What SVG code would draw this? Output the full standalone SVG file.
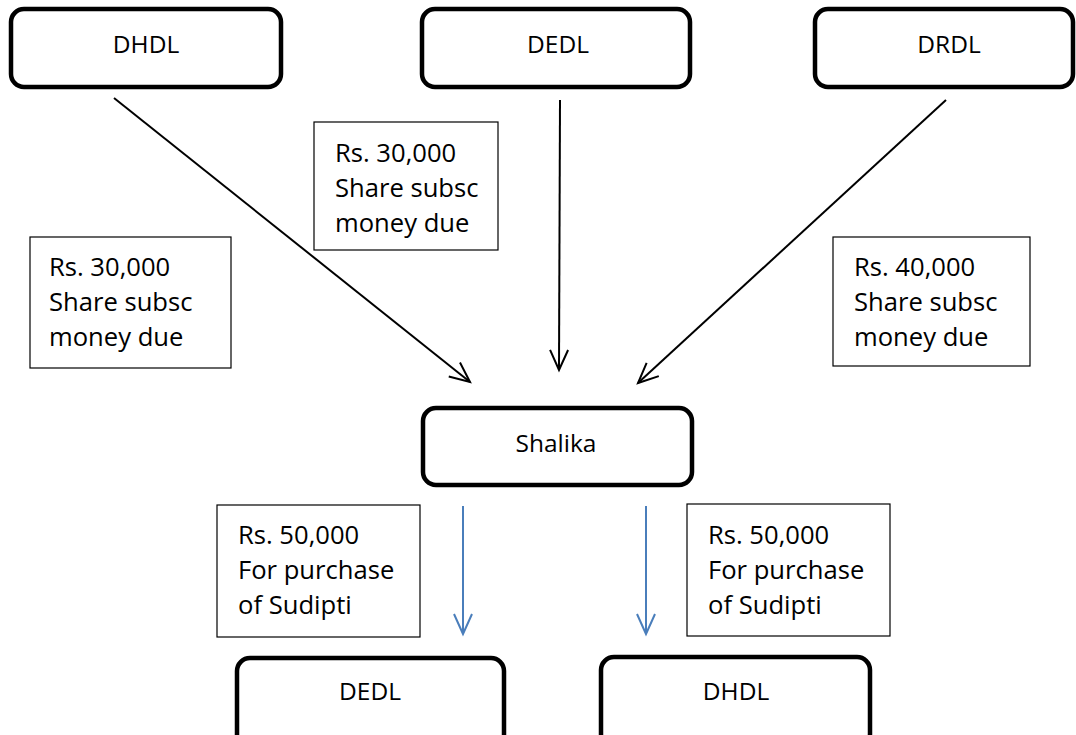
<svg xmlns="http://www.w3.org/2000/svg" width="1076" height="735" viewBox="0 0 1076 735">
<defs>
<style>
.node{fill:#fff;stroke:#000;stroke-width:4.5}
.nt{font-family:"Open Sans","Noto Sans",sans-serif;font-size:24.5px;fill:#000;text-anchor:middle}
.lb{fill:#fff;stroke:#000;stroke-width:1.2}
.lt{font-family:"Open Sans","Noto Sans",sans-serif;font-size:25.6px;fill:#000}
.ar{stroke:#000;stroke-width:2;fill:none}
.br{stroke:#4a7ebb;stroke-width:2;fill:none}
</style>
<marker id="ah" markerUnits="userSpaceOnUse" markerWidth="26" markerHeight="26" viewBox="-2 -13 26 26" refX="20" refY="0" orient="auto">
<path d="M0,-9 L20,0 L0,9" fill="none" stroke="#000" stroke-width="2"/>
</marker>
<marker id="ahb" markerUnits="userSpaceOnUse" markerWidth="26" markerHeight="26" viewBox="-2 -13 26 26" refX="20" refY="0" orient="auto">
<path d="M0,-9 L20,0 L0,9" fill="none" stroke="#4a7ebb" stroke-width="2"/>
</marker>
</defs>
<rect width="1076" height="735" fill="#fff"/>
<g id="connectors">
<line class="ar" x1="114" y1="98" x2="470" y2="382" marker-end="url(#ah)"/>
<line class="ar" x1="560" y1="100" x2="559" y2="370" marker-end="url(#ah)"/>
<line class="ar" x1="946" y1="100" x2="638" y2="383" marker-end="url(#ah)"/>
<line class="br" x1="463" y1="506" x2="463" y2="634" marker-end="url(#ahb)"/>
<line class="br" x1="646" y1="506" x2="646" y2="634" marker-end="url(#ahb)"/>
</g>
<g id="label-a">
<rect class="lb" x="30" y="237" width="201" height="131"/>
<text class="lt" x="49" y="276">Rs. 30,000</text>
<text class="lt" x="49" y="311">Share subsc</text>
<text class="lt" x="49" y="346">money due</text>
</g>
<g id="label-b">
<rect class="lb" x="314" y="122" width="184" height="128"/>
<text class="lt" x="335" y="162">Rs. 30,000</text>
<text class="lt" x="335" y="197">Share subsc</text>
<text class="lt" x="335" y="232">money due</text>
</g>
<g id="label-c">
<rect class="lb" x="833" y="237" width="197" height="129"/>
<text class="lt" x="854" y="276">Rs. 40,000</text>
<text class="lt" x="854" y="311">Share subsc</text>
<text class="lt" x="854" y="346">money due</text>
</g>
<g id="label-d">
<rect class="lb" x="217" y="505" width="203" height="132"/>
<text class="lt" x="238" y="544">Rs. 50,000</text>
<text class="lt" x="238" y="579">For purchase</text>
<text class="lt" x="238" y="614">of Sudipti</text>
</g>
<g id="label-e">
<rect class="lb" x="687" y="504" width="203" height="132"/>
<text class="lt" x="708" y="544">Rs. 50,000</text>
<text class="lt" x="708" y="579">For purchase</text>
<text class="lt" x="708" y="614">of Sudipti</text>
</g>
<g id="node-dhdl-top">
<rect class="node" x="11" y="9" width="270" height="78" rx="13"/>
<text class="nt" x="146" y="53">DHDL</text>
</g>
<g id="node-dedl-top">
<rect class="node" x="422" y="9" width="268" height="78" rx="13"/>
<text class="nt" x="558" y="53">DEDL</text>
</g>
<g id="node-drdl">
<rect class="node" x="815" y="9" width="258" height="78" rx="13"/>
<text class="nt" x="949" y="53">DRDL</text>
</g>
<g id="node-shalika">
<rect class="node" x="423" y="408" width="269" height="77" rx="13"/>
<text class="nt" x="556" y="452">Shalika</text>
</g>
<g id="node-dedl-bottom">
<rect class="node" x="237" y="658" width="267" height="90" rx="13"/>
<text class="nt" x="370" y="700">DEDL</text>
</g>
<g id="node-dhdl-bottom">
<rect class="node" x="601" y="657" width="269" height="90" rx="13"/>
<text class="nt" x="736" y="700">DHDL</text>
</g>
</svg>
